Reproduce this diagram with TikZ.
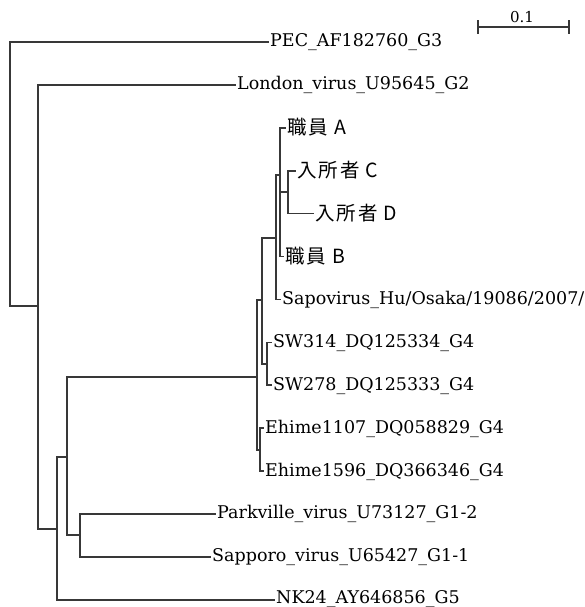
\documentclass[tikz,border=0pt]{standalone}
\usepackage{fontspec}
\setmainfont{DejaVu Serif}
\newfontfamily\cjk[LetterSpace=10]{Noto Sans CJK JP}
\begin{document}
\begin{tikzpicture}[x=1pt,y=-1pt,
  br/.style={line width=1.6pt, draw=black!78, line cap=rect},
  lab/.style={font=\fontsize{17.5}{17.5}\selectfont, inner sep=0pt, anchor=base west},
  jlab/.style={font=\cjk\fontsize{19.5}{19.5}\selectfont, inner sep=0pt, anchor=base west}]
\useasboundingbox (0,0) rectangle (584,607);
\clip (0,0) rectangle (584,607);
% leaf line ends
\coordinate (PEC) at (268,42);
\coordinate (Lon) at (235,84.9);
\coordinate (SA) at (285,127.8);
\coordinate (RC) at (295,170.7);
\coordinate (RD) at (313,213.6);
\coordinate (SB) at (283,256.5);
\coordinate (Osa) at (280,299.4);
\coordinate (SWa) at (271,342.3);
\coordinate (SWb) at (271,385.2);
\coordinate (Ea) at (263,428.1);
\coordinate (Eb) at (263,471);
\coordinate (Park) at (215,513.9);
\coordinate (Sapp) at (210,556.8);
\coordinate (NK) at (274,599.7);
% labels
\node[lab] (tPEC) at ([shift={(2,5)}]PEC) {PEC\_AF182760\_G3};
\node[lab] (tLon) at ([shift={(2,5)}]Lon) {London\_virus\_U95645\_G2};
\node[jlab] (tSA) at ([shift={(2,7)}]SA) {職員 A};
\node[jlab] (tRC) at ([shift={(2,7)}]RC) {入所者 C};
\node[jlab] (tRD) at ([shift={(2,7)}]RD) {入所者 D};
\node[jlab] (tSB) at ([shift={(2,7)}]SB) {職員 B};
\node[lab] (tOsa) at ([shift={(2,5)}]Osa) {Sapovirus\_Hu/Osaka/19086/2007/};
\node[lab] (tSWa) at ([shift={(2,5)}]SWa) {SW314\_DQ125334\_G4};
\node[lab] (tSWb) at ([shift={(2,5)}]SWb) {SW278\_DQ125333\_G4};
\node[lab] (tEa) at ([shift={(2,5)}]Ea) {Ehime1107\_DQ058829\_G4};
\node[lab] (tEb) at ([shift={(2,5)}]Eb) {Ehime1596\_DQ366346\_G4};
\node[lab] (tPark) at ([shift={(2,5)}]Park) {Parkville\_virus\_U73127\_G1-2};
\node[lab] (tSapp) at ([shift={(2,5)}]Sapp) {Sapporo\_virus\_U65427\_G1-1};
\node[lab] (tNK) at ([shift={(2,4)}]NK) {NK24\_AY646856\_G5};
% internal nodes
\coordinate (root) at (10,170);
\coordinate (nA) at (38,306);
\coordinate (nB) at (57,529);
\coordinate (nC) at (67,457);
\coordinate (nP) at (80,535);
\coordinate (nG) at (257,377);
\coordinate (nE) at (260,450);
\coordinate (nH) at (262,300);
\coordinate (nSW) at (267,364);
\coordinate (nI) at (276,238);
\coordinate (nJ) at (280,175);
\coordinate (nK) at (288,192);
% branches
\draw[br] (root) |- (PEC);
\draw[br] (root) |- (nA);
\draw[br] (nA) |- (Lon);
\draw[br] (nA) |- (nB);
\draw[br] (nB) |- (nC);
\draw[br] (nB) |- (NK);
\draw[br] (nC) |- (nG);
\draw[br] (nC) |- (nP);
\draw[br] (nP) |- (Park);
\draw[br] (nP) |- (Sapp);
\draw[br] (nG) |- (nH);
\draw[br] (nG) |- (nE);
\draw[br] (nE) |- (Ea);
\draw[br] (nE) |- (Eb);
\draw[br] (nH) |- (nI);
\draw[br] (nH) |- (nSW);
\draw[br] (nSW) |- (SWa);
\draw[br] (nSW) |- (SWb);
\draw[br] (nI) |- (nJ);
\draw[br] (nI) |- (Osa);
\draw[br] (nJ) |- (SA);
\draw[br] (nJ) |- (nK);
\draw[br] (nJ) |- (SB);
\draw[br] (nK) |- (RC);
\draw[br] (nK) |- (RD);
% scale bar
\coordinate (sb1) at (478,27);
\coordinate (sb2) at (569,27);
\draw[br] (sb1) -- (sb2);
\draw[br] ([yshift=-6pt]sb1) -- ([yshift=6pt]sb1);
\draw[br] ([yshift=-6pt]sb2) -- ([yshift=6pt]sb2);
\node[font=\fontsize{15}{15}\selectfont, inner sep=0pt, anchor=base] (sbl) at (522,23) {0.1};
\end{tikzpicture}
\end{document}
